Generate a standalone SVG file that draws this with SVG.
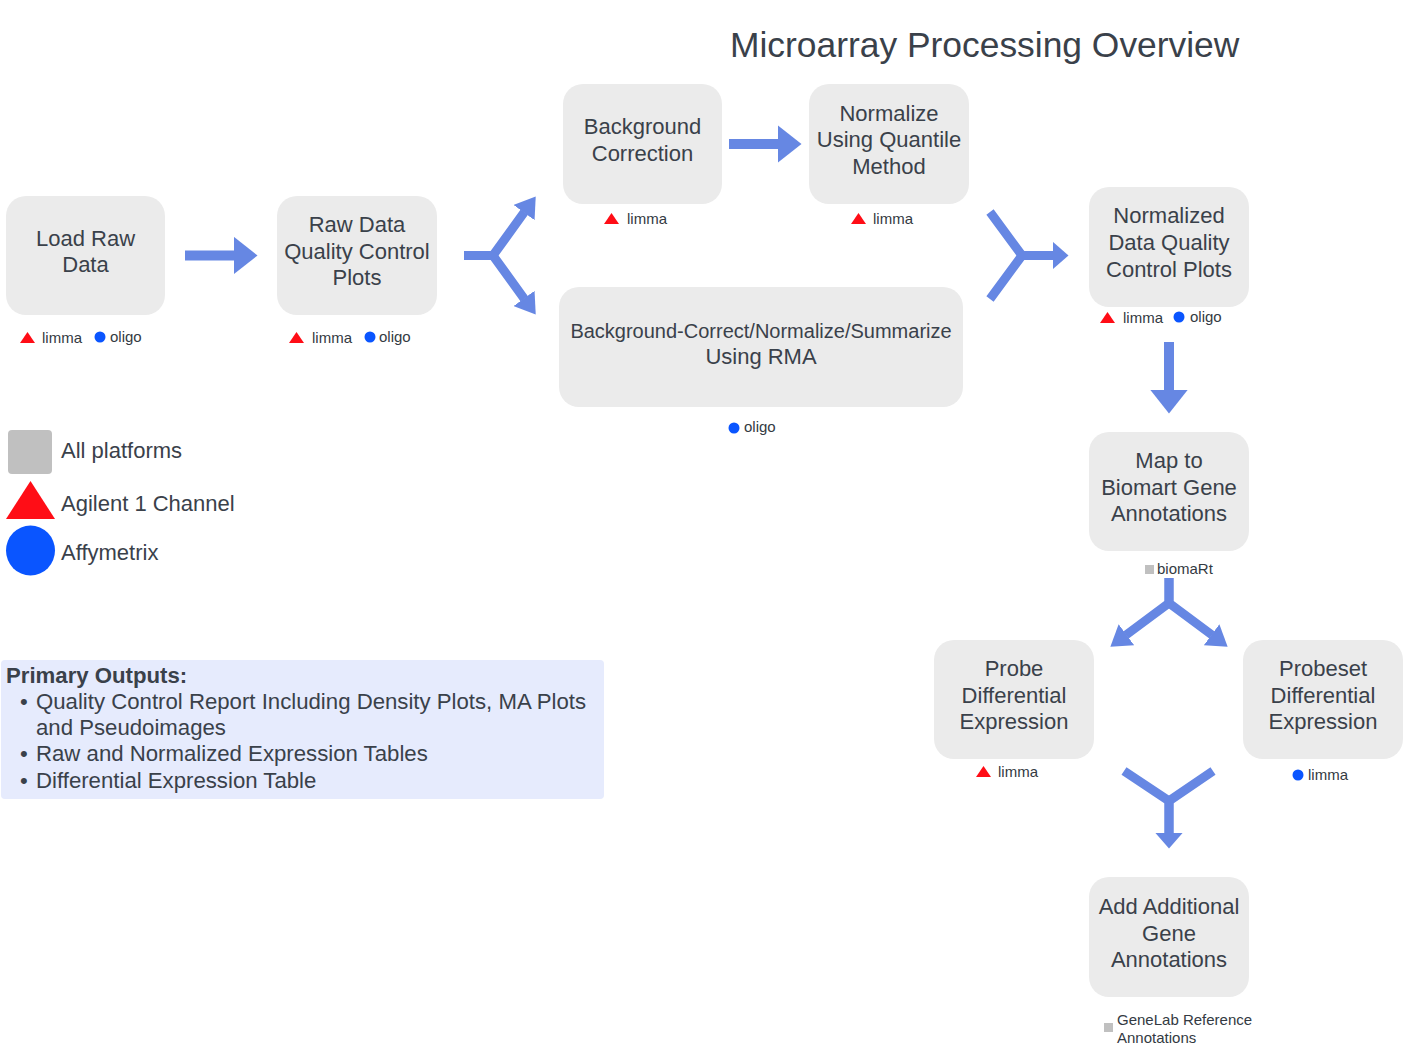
<svg xmlns="http://www.w3.org/2000/svg" width="1403" height="1062" viewBox="0 0 1403 1062">
<defs>
<style>
.box{fill:#ebebeb;}
.nt{font-family:"Liberation Sans",Arial,sans-serif;font-size:22px;fill:#3a414a;text-anchor:middle;}
.lb{font-family:"Liberation Sans",Arial,sans-serif;font-size:15px;fill:#333a42;}
.lg{font-family:"Liberation Sans",Arial,sans-serif;font-size:22px;fill:#3a414a;}
.po{font-family:"Liberation Sans",Arial,sans-serif;font-size:22.2px;fill:#3a414a;}
.tri{fill:#ff0d16;}
.dot{fill:#0a55ff;}
.sq{fill:#c0c0c0;}
.conn path{fill:none;stroke:#6687e3;stroke-linejoin:miter;stroke-miterlimit:10;}
.w10{stroke-width:10;}
.w9{stroke-width:9;}
.head{fill:#6687e3;}
</style>
<marker id="ahL" viewBox="0 0 24 38" markerWidth="24" markerHeight="38" refX="0.5" refY="19" orient="auto" markerUnits="userSpaceOnUse"><path class="head" d="M0,0 L24,19 L0,38 Z"/></marker>
<marker id="ahS" viewBox="0 0 20 26" markerWidth="20" markerHeight="26" refX="0.5" refY="13" orient="auto" markerUnits="userSpaceOnUse"><path class="head" d="M0,0 L20,13 L0,26 Z"/></marker>
<marker id="ahM" viewBox="0 0 16 28" markerWidth="16" markerHeight="28" refX="0.5" refY="14" orient="auto" markerUnits="userSpaceOnUse"><path class="head" d="M0,0 L16,14 L0,28 Z"/></marker>
</defs>
<rect width="1403" height="1062" fill="#ffffff"/>

<text id="title" x="730" y="57" style="font-family:'Liberation Sans',Arial,sans-serif;font-size:35.4px;fill:#3a414a;">Microarray Processing Overview</text>

<g id="connectors" class="conn">
<path class="w10" d="M185,255.5 L234,255.5" marker-end="url(#ahL)"/>
<path class="w10" d="M729,144 L778,144" marker-end="url(#ahL)"/>
<path class="w9" d="M464,255.5 L493,255.5 L524.3,212.2" marker-end="url(#ahS)"/>
<path class="w9" d="M464,255.5 L493,255.5 L524.3,298.8" marker-end="url(#ahS)"/>
<path class="w9" d="M990,212 L1022,255.5 L1053,255.5" marker-end="url(#ahM)"/>
<path class="w9" d="M990,299 L1022,255.5 L1053,255.5"/>
<path class="w10" d="M1169,342 L1169,390" marker-end="url(#ahL)"/>
<path class="w9" d="M1169,578 L1169,603 L1126,635" marker-end="url(#ahS)"/>
<path class="w9" d="M1169,578 L1169,603 L1212,635" marker-end="url(#ahS)"/>
<path class="w9" d="M1124,771 L1169,801 L1169,833" marker-end="url(#ahM)"/>
<path class="w9" d="M1213,771 L1169,801 L1169,833"/>
</g>

<g id="n-load-raw">
<rect class="box" x="6" y="196" width="159" height="119" rx="20"/>
<text class="nt" x="85.5" y="246">Load Raw</text>
<text class="nt" x="85.5" y="272">Data</text>
<polygon class="tri" points="20,343 27.5,332 35,343"/>
<text class="lb" x="42" y="343">limma</text>
<circle class="dot" cx="100" cy="337" r="5.5"/>
<text class="lb" x="110" y="342">oligo</text>
</g>

<g id="n-raw-qc">
<rect class="box" x="277" y="196" width="160" height="119" rx="20"/>
<text class="nt" x="357" y="232">Raw Data</text>
<text class="nt" x="357" y="259">Quality Control</text>
<text class="nt" x="357" y="285">Plots</text>
<polygon class="tri" points="289,343 296.5,332 304,343"/>
<text class="lb" x="312" y="343">limma</text>
<circle class="dot" cx="370" cy="337" r="5.5"/>
<text class="lb" x="379" y="342">oligo</text>
</g>

<g id="n-bg-corr">
<rect class="box" x="563" y="84" width="159" height="120" rx="20"/>
<text class="nt" x="642.5" y="134">Background</text>
<text class="nt" x="642.5" y="161">Correction</text>
<polygon class="tri" points="604,224 611.5,213 619,224"/>
<text class="lb" x="627" y="224">limma</text>
</g>

<g id="n-normalize">
<rect class="box" x="809" y="84" width="160" height="120" rx="20"/>
<text class="nt" x="889" y="120.5">Normalize</text>
<text class="nt" x="889" y="147">Using Quantile</text>
<text class="nt" x="889" y="174">Method</text>
<polygon class="tri" points="851,224 858.5,213 866,224"/>
<text class="lb" x="873" y="224">limma</text>
</g>

<g id="n-rma">
<rect class="box" x="559" y="287" width="404" height="120" rx="20"/>
<text class="nt" x="761" y="338" style="font-size:20px">Background-Correct/Normalize/Summarize</text>
<text class="nt" x="761" y="364">Using RMA</text>
<circle class="dot" cx="734" cy="428" r="5.5"/>
<text class="lb" x="744" y="432">oligo</text>
</g>

<g id="n-norm-qc">
<rect class="box" x="1089" y="187" width="160" height="120" rx="20"/>
<text class="nt" x="1169" y="223">Normalized</text>
<text class="nt" x="1169" y="250">Data Quality</text>
<text class="nt" x="1169" y="277">Control Plots</text>
<polygon class="tri" points="1100,323 1107.5,312 1115,323"/>
<text class="lb" x="1123" y="323">limma</text>
<circle class="dot" cx="1179" cy="317" r="5.5"/>
<text class="lb" x="1190" y="322">oligo</text>
</g>

<g id="n-map-biomart">
<rect class="box" x="1089" y="432" width="160" height="119" rx="20"/>
<text class="nt" x="1169" y="468">Map to</text>
<text class="nt" x="1169" y="495">Biomart Gene</text>
<text class="nt" x="1169" y="521">Annotations</text>
<rect class="sq" x="1145" y="565" width="9" height="9"/>
<text class="lb" x="1157" y="574">biomaRt</text>
</g>

<g id="n-probe-de">
<rect class="box" x="934" y="640" width="160" height="119" rx="20"/>
<text class="nt" x="1014" y="676">Probe</text>
<text class="nt" x="1014" y="703">Differential</text>
<text class="nt" x="1014" y="729">Expression</text>
<polygon class="tri" points="976,777 983.5,766 991,777"/>
<text class="lb" x="998" y="777">limma</text>
</g>

<g id="n-probeset-de">
<rect class="box" x="1243" y="640" width="160" height="119" rx="20"/>
<text class="nt" x="1323" y="676">Probeset</text>
<text class="nt" x="1323" y="703">Differential</text>
<text class="nt" x="1323" y="729">Expression</text>
<circle class="dot" cx="1298" cy="775" r="5.5"/>
<text class="lb" x="1308" y="780">limma</text>
</g>

<g id="n-add-annot">
<rect class="box" x="1089" y="877" width="160" height="120" rx="20"/>
<text class="nt" x="1169" y="914">Add Additional</text>
<text class="nt" x="1169" y="941">Gene</text>
<text class="nt" x="1169" y="967">Annotations</text>
<rect class="sq" x="1104" y="1023" width="9" height="9"/>
<text class="lb" x="1117" y="1025">GeneLab Reference</text>
<text class="lb" x="1117" y="1043">Annotations</text>
</g>

<g id="legend">
<rect class="sq" x="8" y="430" width="44" height="44" rx="4"/>
<text class="lg" x="61" y="458">All platforms</text>
<polygon class="tri" points="6,519 30.5,481 55,519"/>
<text class="lg" x="61" y="511">Agilent 1 Channel</text>
<ellipse class="dot" cx="30.5" cy="550.5" rx="24.5" ry="25"/>
<text class="lg" x="61" y="560">Affymetrix</text>
</g>

<g id="primary-outputs">
<rect x="1" y="660" width="603" height="139" rx="4" fill="#e6ebfd"/>
<text class="po" x="6" y="683" style="font-weight:bold">Primary Outputs:</text>
<text class="po" x="20" y="709">•</text>
<text class="po" x="36" y="709">Quality Control Report Including Density Plots, MA Plots</text>
<text class="po" x="36" y="735">and Pseudoimages</text>
<text class="po" x="20" y="761">•</text>
<text class="po" x="36" y="761">Raw and Normalized Expression Tables</text>
<text class="po" x="20" y="788">•</text>
<text class="po" x="36" y="788">Differential Expression Table</text>
</g>
</svg>
